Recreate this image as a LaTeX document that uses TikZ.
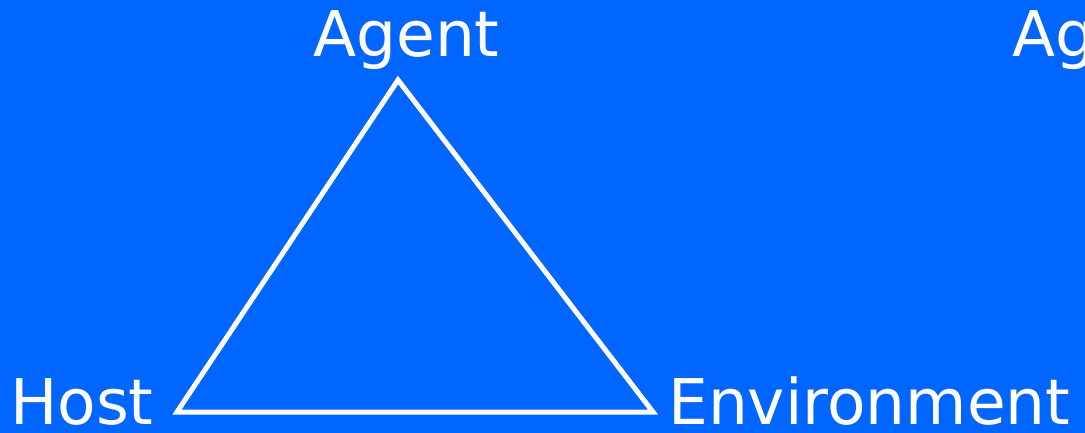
\documentclass[tikz,border=0pt]{standalone}
\usepackage{fontspec}
\setmainfont{DejaVu Sans}
\definecolor{bgblue}{RGB}{0,102,255}
\begin{document}
\begin{tikzpicture}[x=1pt,y=-1pt,
  lbl/.style={text=white,font=\fontsize{63}{63}\selectfont,inner sep=0pt,anchor=base west},
  edge/.style={draw=white,line width=5pt,line join=miter}]
\useasboundingbox (0,0) rectangle (1085,433);
\clip (0,0) rectangle (1085,433);
\fill[bgblue] (0,0) rectangle (1085,433);
\node[lbl] (agent) at (313,57) {Agent};
\node[lbl] (host) at (10,424) {Host};
\node[lbl] (env) at (668,424) {Environment};
\node[lbl] (agent2) at (1012,57) {Agent};
\coordinate (A) at (398,80);
\coordinate (H) at (177,412);
\coordinate (E) at (653,412);
\draw[edge] (A) -- (H) -- (E) -- cycle;
\end{tikzpicture}
\end{document}
